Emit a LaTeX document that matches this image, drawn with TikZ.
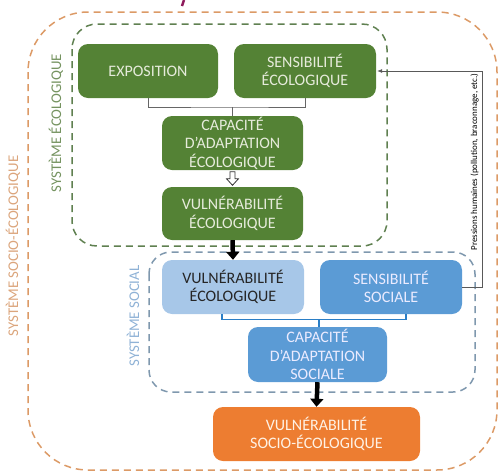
\documentclass[tikz,border=0pt]{standalone}
\usepackage{fontspec}
\setmainfont{Carlito}
\usetikzlibrary{arrows.meta,calc}
\definecolor{gbox}{HTML}{548235}
\definecolor{gtext}{HTML}{E6EBDB}
\definecolor{lblue}{HTML}{A7C7E8}
\definecolor{mblue}{HTML}{5B9BD5}
\definecolor{obox}{HTML}{ED7D31}
\definecolor{gdash}{HTML}{5F8050}
\definecolor{odash}{HTML}{DC9A66}
\definecolor{bdash}{HTML}{7F98AE}
\definecolor{glab}{HTML}{759360}
\definecolor{olab}{HTML}{DBA57C}
\definecolor{blab}{HTML}{8FB2D6}
\definecolor{bline}{HTML}{2A7EC6}
\definecolor{magen}{HTML}{8E1B5C}
\tikzset{
  boxs/.style={rectangle, rounded corners=10pt, inner sep=0pt, align=center,
    font=\fontsize{16}{18.5}\selectfont},
  greenbox/.style={boxs, fill=gbox, text=gtext},
  lbluebox/.style={boxs, fill=lblue, text=black!85},
  mbluebox/.style={boxs, fill=mblue, text=white!92!blue},
  orangebox/.style={boxs, fill=obox, text=white!90!orange},
  sysframe/.style={line width=1.5pt, dash pattern=on 7pt off 5pt},
  syslabel/.style={rotate=90, font=\fontsize{14.8}{16}\selectfont},
  bigarrow/.style={line width=4.5pt, -{Triangle[length=8pt,width=13pt]}},
}
\begin{document}
\begin{tikzpicture}[x=1pt,y=-1pt]
\useasboundingbox (0,0) rectangle (499,472);
% frames
\draw[sysframe, odash, rounded corners=60pt] (28,12) rectangle (497,470);
\draw[sysframe, gdash, rounded corners=25pt] (72,24) rectangle (387,246);
\draw[sysframe, bdash, rounded corners=22pt] (149,252) rectangle (475,392);
% labels
\node[syslabel, text=olab] (lso) at (13,246) {SYSTÈME SOCIO-ÉCOLOGIQUE};
\node[syslabel, text=glab] (leco) at (56,123) {SYSTÈME ÉCOLOGIQUE};
\node[syslabel, text=blab] (lsoc) at (133,316) {SYSTÈME SOCIAL};
% title remnant
\draw[magen, line width=2.5pt] (184,0) -- (182,6);
% boxes
\node[greenbox, minimum width=140pt, minimum height=54pt] (expo) at (148,71) {EXPOSITION};
\node[greenbox, minimum width=142pt, minimum height=54pt] (senseco) at (305,71) {SENSIBILITÉ\\ÉCOLOGIQUE};
\node[greenbox, minimum width=141pt, minimum height=54pt] (capeco) at (232.5,143) {CAPACITÉ\\D’ADAPTATION\\ÉCOLOGIQUE};
\node[greenbox, minimum width=141pt, minimum height=53pt] (vulneco) at (232.5,213.5) {VULNÉRABILITÉ\\ÉCOLOGIQUE};
\node[lbluebox, minimum width=142pt, minimum height=54pt] (vulnsoc) at (233,287) {VULNÉRABILITÉ\\ÉCOLOGIQUE};
\node[mbluebox, minimum width=142pt, minimum height=54pt] (senssoc) at (391,287) {SENSIBILITÉ\\SOCIALE};
\node[mbluebox, minimum width=139pt, minimum height=55pt] (capsoc) at (317.5,354.5) {CAPACITÉ\\D’ADAPTATION\\SOCIALE};
\node[orangebox, minimum width=207pt, minimum height=54pt] (vulnse) at (316.5,434) {VULNÉRABILITÉ\\SOCIO-ÉCOLOGIQUE};
% green bracket
\coordinate (jg) at (232.5,107);
\draw[gray!80!black, line width=0.9pt] (expo.south) |- (jg) -| (senseco.south);
\draw[gray!80!black, line width=0.9pt] (jg) -- (capeco.north);
% hollow arrow
\draw[black!80, fill=white, line width=0.8pt]
  ($(capeco.south)+(-2.5,1.5)$) -- ($(capeco.south)+(2.5,1.5)$) -- ($(capeco.south)+(2.5,8.5)$)
  -- ($(capeco.south)+(6,8.5)$) -- ($(vulneco.north)+(0,-1.5)$) -- ($(capeco.south)+(-6,8.5)$)
  -- ($(capeco.south)+(-2.5,8.5)$) -- cycle;
% black arrows
\draw[bigarrow] (vulneco.south) -- (vulnsoc.north);
\draw[bigarrow] (capsoc.south) -- (vulnse.north);
% blue bracket
\coordinate (jb) at (319,319.5);
\draw[bline, line width=1.5pt] ($(vulnsoc.south)+(-11,0)$) |- (jb) -| ($(senssoc.south)+(15,0)$);
\draw[bline, line width=1.5pt] (jb) -- (capsoc.north -| jb);
% feedback line
\coordinate (fb) at (482,287);
\draw[gray!70!black, line width=0.7pt, -{Latex[length=5pt,width=4pt]}, shorten >=1pt]
  (senssoc.east) -- (fb) |- (senseco.east);
\node[rotate=90, font=\fontsize{9}{10}\selectfont, inner sep=0pt] (press) at (474.5,162)
  {Pressions humaines (pollution, braconnage, etc.)};
\end{tikzpicture}
\end{document}
